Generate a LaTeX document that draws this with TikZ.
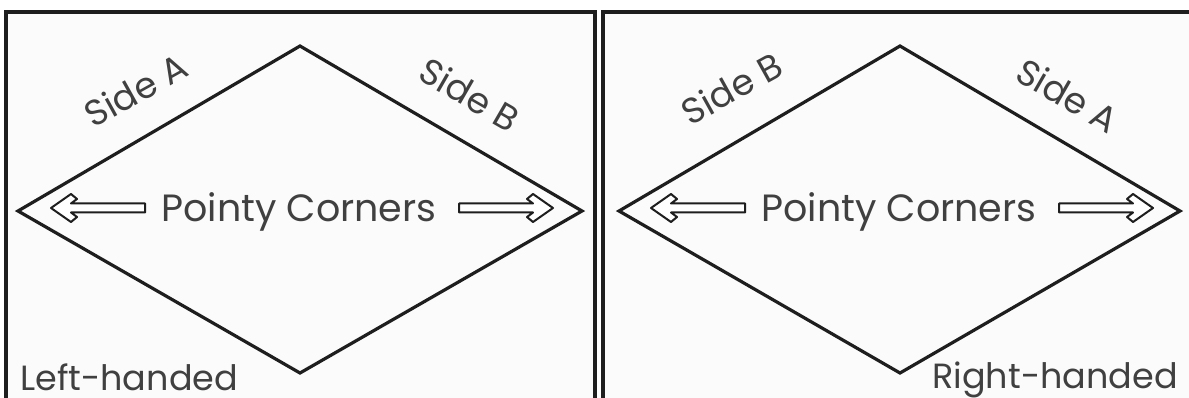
\documentclass[tikz,border=0pt]{standalone}
\usepackage{fontspec}
\setmainfont{Poppins}
\definecolor{ink}{HTML}{1E1E1E}
\definecolor{txt}{HTML}{404040}
\definecolor{paper}{HTML}{FBFBFB}
\tikzset{
  frame/.style={draw=ink, line width=4pt, fill=paper},
  rhomb/.style={draw=ink, line width=3.2pt, line join=miter},
  arrowline/.style={draw=ink, line width=2pt, line join=round, fill=white},
  lbl/.style={text=txt, font=\fontsize{36}{36}\selectfont, inner sep=0pt, anchor=base},
  big/.style={text=txt, font=\fontsize{38}{38}\selectfont, inner sep=0pt},
  corner/.style={text=txt, font=\fontsize{35}{35}\selectfont, inner sep=0pt},
  larrow/.pic={\path[arrowline] (0,0) -- (20,-14) -- (26,-9) -- (20,-4.5) -- (94,-4.5) -- (94,4.5) -- (20,4.5) -- (26,9) -- (20,14) -- cycle;},
  rarrow/.pic={\path[arrowline] (0,0) -- (-20,-14) -- (-26,-9) -- (-20,-4.5) -- (-94,-4.5) -- (-94,4.5) -- (-20,4.5) -- (-26,9) -- (-20,14) -- cycle;},
}
\begin{document}
\begin{tikzpicture}[x=1pt,y=-1pt]
\useasboundingbox (0,0) rectangle (1189,398);
\clip (0,0) rectangle (1189,398);
\fill[white] (0,0) rectangle (1189,398);
% frames
\draw[frame] (6,12) rectangle (594.5,430);
\draw[frame] (603,12) rectangle (1210,430);
% left diamond
\coordinate (L1) at (18,211);
\coordinate (T1) at (300,46);
\coordinate (R1) at (582,211);
\coordinate (B1) at (300,373);
\draw[rhomb] (L1) -- (T1) -- (R1) -- (B1) -- cycle;
% right diamond
\coordinate (L2) at (619,211);
\coordinate (T2) at (900,46);
\coordinate (R2) at (1180,211);
\coordinate (B2) at (900,373);
\draw[rhomb] (L2) -- (T2) -- (R2) -- (B2) -- cycle;
% left panel texts
\node[big, anchor=base] (pc1) at (299,222) {Pointy Corners};
\node[lbl, rotate=29] (sa1) at (142,102) {Side A};
\node[lbl, rotate=-30] (sb1) at (463,106) {Side B};
\node[corner, anchor=base west] (lh) at (20,390) {Left-handed};
% right panel texts
\node[big, anchor=base] (pc2) at (899,222) {Pointy Corners};
\node[lbl, rotate=29] (sb2) at (738,100) {Side B};
\node[lbl, rotate=-30] (sa2) at (1061,107) {Side A};
\node[corner, anchor=base east] (rh) at (1178,388) {Right-handed};
% arrows
\coordinate (a1h) at (51,208);
\coordinate (a2h) at (553,208);
\coordinate (a3h) at (651,208);
\coordinate (a4h) at (1153,208);
\pic at (a1h) {larrow};
\pic at (a2h) {rarrow};
\pic at (a3h) {larrow};
\pic at (a4h) {rarrow};
\end{tikzpicture}
\end{document}
